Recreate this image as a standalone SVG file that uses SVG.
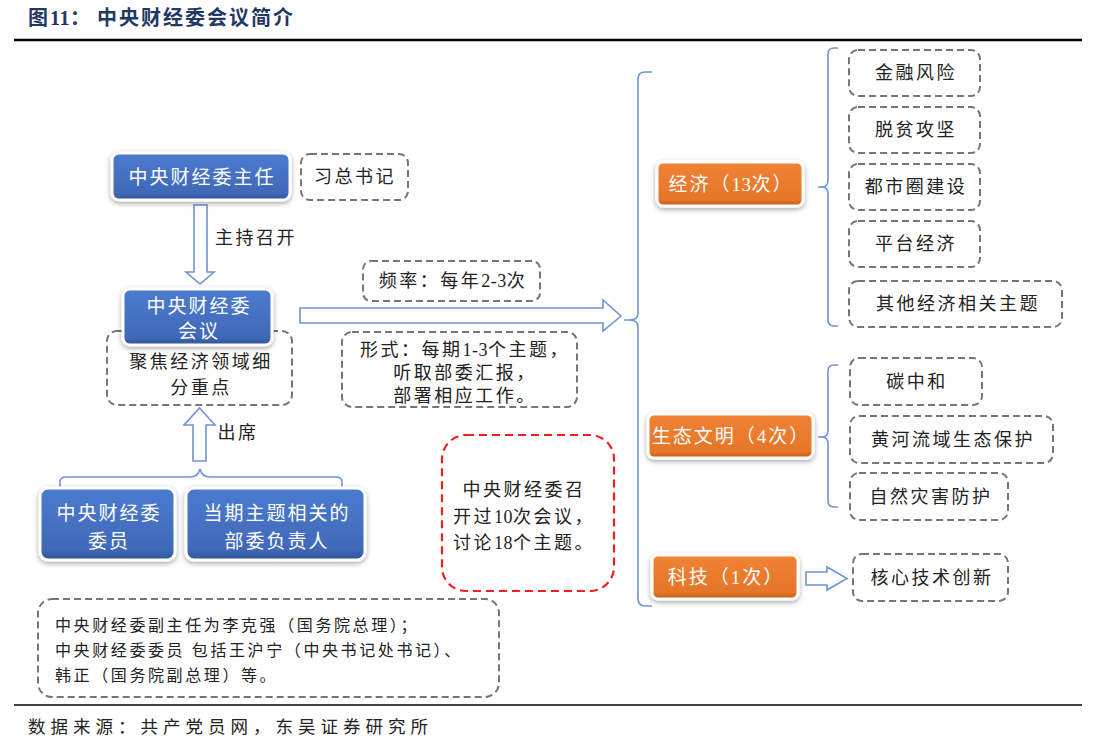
<svg xmlns="http://www.w3.org/2000/svg" width="1100" height="744" viewBox="0 0 1100 744">
<defs>
<style>
text{font-family:"Liberation Serif","Noto Sans CJK SC",serif;}
.t{font-size:18px;fill:#222;text-anchor:middle;dominant-baseline:central;letter-spacing:2.5px;}
.w{font-size:19px;fill:#fff;text-anchor:middle;dominant-baseline:central;letter-spacing:2px;}
.n{font-size:16px;fill:#222;dominant-baseline:central;letter-spacing:2.6px;}
.d{letter-spacing:0.5px;}
.dash{fill:none;stroke:#767676;stroke-width:2;stroke-dasharray:7 4;}
.blue{fill:url(#gb);stroke:#fff;stroke-width:3;filter:url(#sh);}
.orange{fill:url(#go);stroke:#fff;stroke-width:3;filter:url(#sh);}
.br{fill:none;stroke:#6F93D6;stroke-width:1.6;}
.arr{fill:#fff;stroke:#6F93D6;stroke-width:1.6;stroke-linejoin:miter;}
</style>
<linearGradient id="gb" x1="0" y1="0" x2="0" y2="1"><stop offset="0" stop-color="#4B7BD0"/><stop offset="0.85" stop-color="#4169B8"/><stop offset="1" stop-color="#2F5597"/></linearGradient>
<linearGradient id="go" x1="0" y1="0" x2="0" y2="1"><stop offset="0" stop-color="#F08234"/><stop offset="0.85" stop-color="#E5762A"/><stop offset="1" stop-color="#C55A11"/></linearGradient>
<filter id="sh" x="-10%" y="-20%" width="120%" height="150%"><feDropShadow dx="0" dy="2" stdDeviation="2.5" flood-color="#000" flood-opacity="0.35"/></filter>
</defs>
<rect width="1100" height="744" fill="#fff"/>
<text x="28" y="25" style="font-size:20px;font-weight:bold;fill:#1F3864;letter-spacing:2px;">图<tspan style="letter-spacing:0.5px">11</tspan>：<tspan x="97">中央财经委会议简介</tspan></text>
<line x1="14" y1="40" x2="1082" y2="40" stroke="#000" stroke-width="2.5"/>
<g id="connectors">
<path class="arr" d="M194,205 H207 V272 H214 L200,284 L186,272 H194 Z"/>
<path class="arr" d="M193,461 H206 V425 H215 L199.5,408 L184,425 H193 Z"/>
<path class="br" d="M60,490 V482 Q60,477 66,477 H190 Q198,477 200,469 Q202,477 210,477 H336 Q342,477 342,482 V490"/>
<path class="arr" d="M300,308 H603 V300 L621,316 L603,331 V323 H300 Z"/>
<path class="br" d="M652,72 H645 Q638,72 638,79 V313 Q638,320 630,320 H624 M630,320 Q638,320 638,327 V598 Q638,606 645,606 H652"/>
<path class="br" d="M838,48 H834 Q828,48 828,54 V180 Q828,187 822,187 H818 M822,187 Q828,187 828,194 V320 Q828,326 834,326 H838"/>
<path class="br" d="M838,365 H834 Q828,365 828,371 V430 Q828,437 822,437 H818 M822,437 Q828,437 828,444 V501 Q828,507 834,507 H838"/>
<path class="arr" d="M806,572 H827 V567 L847,578.5 L827,590 V585 H806 Z"/>
</g>
<g id="n-zhuren"><rect class="blue" x="112" y="153" width="178" height="47" rx="7"/><text class="w" x="202" y="177">中央财经委主任</text></g>
<g id="n-xi"><rect class="dash" x="301" y="154" width="107" height="46" rx="9"/><text class="t" x="355" y="177">习总书记</text></g>
<text class="t" x="256" y="238">主持召开</text>
<g id="n-focus"><rect class="dash" x="107" y="331" width="185" height="74" rx="10"/><text class="t" x="201" y="362">聚焦经济领域细</text><text class="t" x="201" y="388">分重点</text></g>
<g id="n-huiyi"><rect class="blue" x="123" y="289" width="149" height="56" rx="7"/><text class="w" x="199" y="306">中央财经委</text><text class="w" x="199" y="331">会议</text></g>
<text class="t" x="238" y="433">出席</text>
<g id="n-weiyuan"><rect class="blue" x="40" y="488" width="135" height="72" rx="8"/><text class="w" x="109" y="513">中央财经委</text><text class="w" x="109" y="541">委员</text></g>
<g id="n-buwei"><rect class="blue" x="186" y="488" width="179" height="72" rx="8"/><text class="w" x="277" y="513">当期主题相关的</text><text class="w" x="277" y="541">部委负责人</text></g>
<g id="n-pinlv"><rect class="dash" x="363" y="261" width="177" height="40" rx="8"/><text class="t" x="453" y="281">频率：每年<tspan class="d">2-3</tspan>次</text></g>
<g id="n-xingshi"><rect class="dash" x="342" y="332" width="235" height="75" rx="10"/><text class="t" x="465" y="350">形式：每期<tspan class="d">1-3</tspan>个主题，</text><text class="t" x="465" y="373">听取部委汇报，</text><text class="t" x="465" y="396">部署相应工作。</text></g>
<g id="n-total"><rect x="442" y="435" width="172" height="156" rx="24" fill="none" stroke="#F01E1E" stroke-width="2.2" stroke-dasharray="8 5"/><text class="t" x="524" y="490">中央财经委召</text><text class="t" x="524" y="517">开过<tspan class="d">10</tspan>次会议，</text><text class="t" x="524" y="543">讨论<tspan class="d">18</tspan>个主题。</text></g>
<g id="n-jingji"><rect class="orange" x="657" y="162" width="146" height="44" rx="6"/><text class="w" x="731" y="184">经济（<tspan class="d">13</tspan>次）</text></g>
<g id="n-shengtai"><rect class="orange" x="648" y="414" width="165" height="44" rx="6"/><text class="w" x="731" y="436">生态文明（4次）</text></g>
<g id="n-keji"><rect class="orange" x="652" y="555" width="146" height="44" rx="6"/><text class="w" x="726" y="577">科技（1次）</text></g>
<g id="n-jinrong"><rect class="dash" x="849" y="50" width="131" height="46" rx="9"/><text class="t" x="916" y="73">金融风险</text></g>
<g id="n-tuopin"><rect class="dash" x="849" y="107" width="131" height="46" rx="9"/><text class="t" x="916" y="130">脱贫攻坚</text></g>
<g id="n-dushi"><rect class="dash" x="849" y="164" width="131" height="46" rx="9"/><text class="t" x="916" y="187">都市圈建设</text></g>
<g id="n-pingtai"><rect class="dash" x="849" y="221" width="131" height="46" rx="9"/><text class="t" x="916" y="244">平台经济</text></g>
<g id="n-qita"><rect class="dash" x="849" y="281" width="213" height="46" rx="9"/><text class="t" x="958" y="304">其他经济相关主题</text></g>
<g id="n-tan"><rect class="dash" x="850" y="358" width="132" height="47" rx="9"/><text class="t" x="917" y="382">碳中和</text></g>
<g id="n-huanghe"><rect class="dash" x="850" y="416" width="203" height="47" rx="9"/><text class="t" x="953" y="440">黄河流域生态保护</text></g>
<g id="n-ziran"><rect class="dash" x="850" y="473" width="158" height="47" rx="9"/><text class="t" x="931" y="497">自然灾害防护</text></g>
<g id="n-hexin"><rect class="dash" x="853" y="554" width="155" height="47" rx="9"/><text class="t" x="932" y="578">核心技术创新</text></g>
<g id="n-note"><rect class="dash" x="38" y="599" width="461" height="98" rx="14"/>
<text class="n" x="55" y="625">中央财经委副主任为李克强（国务院总理）；</text>
<text class="n" x="55" y="650">中央财经委委员 包括王沪宁（中央书记处书记）、</text>
<text class="n" x="55" y="675">韩正（国务院副总理）等。</text></g>
<line x1="14" y1="705" x2="1082" y2="705" stroke="#000" stroke-width="1.5"/>
<text style="font-size:17.5px;fill:#222;dominant-baseline:central;letter-spacing:5px;" x="28" y="727">数据来源：共产党员网，东吴证券研究所</text>
</svg>
